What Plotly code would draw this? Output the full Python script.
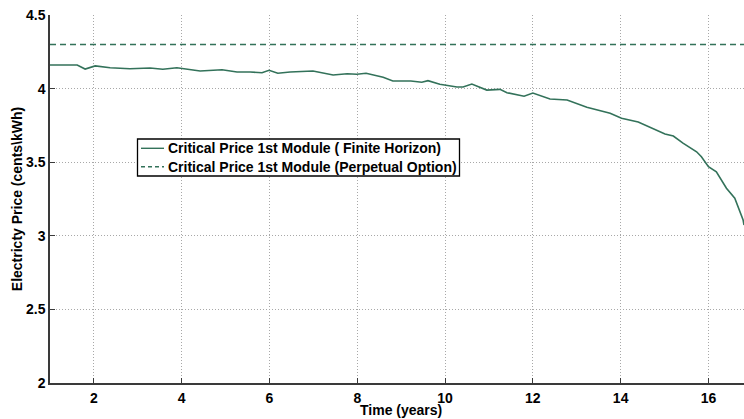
import plotly.graph_objects as go

# Critical price of the first module over time (finite horizon)
time_years = [1.00, 1.62, 1.80, 2.03, 2.37, 2.82, 3.28, 3.57, 3.89, 4.42, 4.92, 5.26,
              5.56, 5.83, 5.99, 6.19, 6.47, 6.99, 7.45, 7.77, 7.99, 8.20, 8.59, 8.81,
              9.22, 9.47, 9.61, 9.88, 10.27, 10.41, 10.61, 10.95, 11.25, 11.41, 11.80,
              12.00, 12.39, 12.78, 13.23, 13.76, 14.02, 14.40, 15.01, 15.20, 15.42,
              15.73, 15.84, 16.00, 16.18, 16.41, 16.60, 16.79, 16.81]
finite_price = [4.160, 4.160, 4.133, 4.154, 4.142, 4.135, 4.140, 4.131, 4.142, 4.120,
                4.128, 4.113, 4.113, 4.108, 4.124, 4.104, 4.113, 4.120, 4.092, 4.101,
                4.097, 4.104, 4.077, 4.052, 4.052, 4.043, 4.054, 4.029, 4.011, 4.011,
                4.031, 3.990, 3.995, 3.972, 3.948, 3.970, 3.929, 3.923, 3.873, 3.832,
                3.798, 3.773, 3.692, 3.678, 3.630, 3.571, 3.537, 3.469, 3.435, 3.323,
                3.255, 3.107, 3.073]

# Critical price for the perpetual option (constant)
perpetual_price = 4.30

series_names = ["Critical Price 1st Module ( Finite Horizon)",
                "Critical Price 1st Module (Perpetual Option)"]
x_title = "Time (years)"
y_title = "Electricty Price (cents\\kWh)"

x_range = [1, 16.81]
y_range = [2, 4.5]
x_ticks = [2, 4, 6, 8, 10, 12, 14, 16]
y_ticks = [2, 2.5, 3, 3.5, 4, 4.5]
y_tick_text = ["2", "2.5", "3", "3.5", "4", "4.5"]

W, H = 744, 419
M_L, M_R, M_T, M_B = 50, 0, 15, 36
PLOT_W = W - M_L - M_R
PLOT_H = H - M_T - M_B

line_color = "#33725a"
font_family = "Liberation Sans, Arial, Helvetica, sans-serif"
FS = 14


def px_to_paper(px, py):
    """Convert page pixel coordinates to plot-area paper coordinates."""
    return (px - M_L) / PLOT_W, (H - M_B - py) / PLOT_H


fig = go.Figure()
fig.add_trace(go.Scatter(
    x=time_years, y=finite_price, mode="lines", name=series_names[0],
    line=dict(color=line_color, width=1.6), showlegend=False,
))
fig.add_trace(go.Scatter(
    x=x_range, y=[perpetual_price, perpetual_price], mode="lines", name=series_names[1],
    line=dict(color=line_color, width=1.4, dash="6px,4px"), showlegend=False,
))

axis_common = dict(
    showgrid=True, gridcolor="#a8a8a8", gridwidth=1, griddash="1px,2px",
    showline=True, linecolor="#3a3a3a", linewidth=1.5,
    ticks="inside", ticklen=5, tickwidth=1.2, tickcolor="#3a3a3a",
    zeroline=False,
    tickfont=dict(family=font_family, size=FS, color="black", weight="bold"),
)

fig.update_xaxes(range=x_range, tickvals=x_ticks, ticklabelstandoff=1, **axis_common)
fig.update_yaxes(
    range=y_range, tickvals=y_ticks, ticktext=y_tick_text,
    title=dict(text=f"<b>{y_title}</b>", standoff=0,
               font=dict(family=font_family, size=FS, color="black")),
    **axis_common,
)

# Legend box drawn with shapes and annotations
x0, y0 = px_to_paper(137.5, 139)
x1, y1 = px_to_paper(459.5, 176)
shapes = [dict(type="rect", xref="paper", yref="paper", x0=x0, y0=y0, x1=x1, y1=y1,
               line=dict(color="black", width=1.3), fillcolor="white", layer="above")]
annotations = []
rows = [(148.3, None), (166.7, "4px,3px")]
for name, (row_y, dash) in zip(series_names, rows):
    lx0, ly = px_to_paper(141, row_y)
    lx1, _ = px_to_paper(164, row_y)
    shapes.append(dict(type="line", xref="paper", yref="paper", x0=lx0, x1=lx1, y0=ly, y1=ly,
                       line=dict(color=line_color, width=1.4, dash=dash or "solid"),
                       layer="above"))
    tx, _ = px_to_paper(166, row_y)
    annotations.append(dict(xref="paper", yref="paper", x=tx, y=ly, text=f"<b>{name}</b>",
                            showarrow=False, xanchor="left", yanchor="middle",
                            font=dict(family=font_family, size=FS, color="black")))

# X axis title
tx, ty = px_to_paper(401, 410)
annotations.append(dict(xref="paper", yref="paper", x=tx, y=ty, text=f"<b>{x_title}</b>",
                        showarrow=False, xanchor="center", yanchor="middle",
                        font=dict(family=font_family, size=FS, color="black")))

fig.update_layout(
    width=W, height=H,
    margin=dict(l=M_L, r=M_R, t=M_T, b=M_B),
    paper_bgcolor="white", plot_bgcolor="white",
    showlegend=False,
    shapes=shapes,
    annotations=annotations,
)

fig.write_html("out.html")
